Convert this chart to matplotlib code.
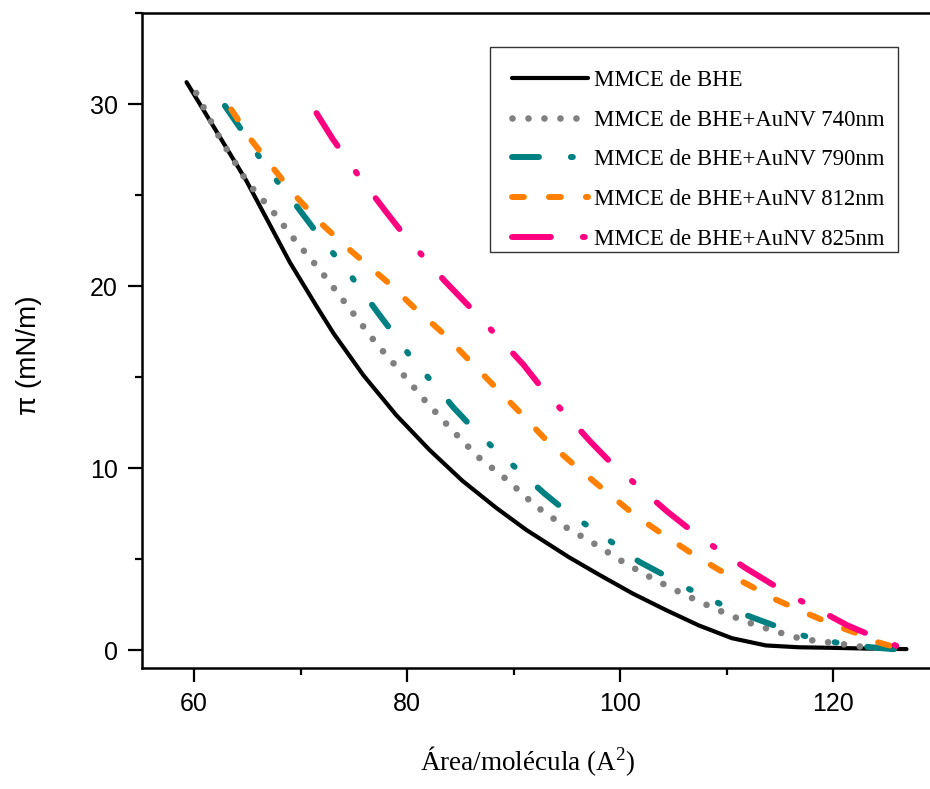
import matplotlib
matplotlib.use("Agg")
import matplotlib.pyplot as plt
from matplotlib.patches import Rectangle
from matplotlib.ticker import MultipleLocator

plt.rcParams["lines.scale_dashes"] = False
plt.rcParams["mathtext.default"] = "regular"

# Surface pressure isotherms: area per molecule (A^2) vs pi (mN/m)
area_bhe = [59.3, 62.0, 64.9, 67.0, 69.0, 71.6, 73.1, 75.9, 79.0, 82.1, 85.2, 88.4,
            91.2, 95.2, 98.0, 101.2, 104.3, 107.4, 110.5, 113.7, 116.8, 119.9, 123.0,
            126.9]
pi_bhe = [31.2, 28.6, 25.8, 23.5, 21.3, 18.8, 17.4, 15.1, 12.9, 11.0, 9.3, 7.8,
          6.6, 5.1, 4.15, 3.1, 2.2, 1.35, 0.65, 0.25, 0.15, 0.12, 0.08, 0.05]

area_740 = [60.2, 62.4, 65.0, 67.4, 69.5, 71.8, 73.9, 77.1, 79.4, 81.7, 84.2, 86.7,
            89.5, 92.1, 94.9, 97.7, 100.5, 103.3, 106.0, 108.8, 111.6, 114.4, 117.1,
            119.9, 122.7, 126.9]
pi_740 = [30.6, 28.15, 25.7, 24.1, 22.5, 20.9, 19.3, 16.85, 15.3, 13.7, 12.1, 10.6,
          9.3, 7.9, 6.75, 5.8, 4.76, 3.85, 3.06, 2.3, 1.6, 1.06, 0.6, 0.4, 0.18, 0.0]

area_790 = [62.9, 64.9, 66.0, 67.9, 69.5, 71.3, 72.8, 74.8, 77.3, 79.1, 80.6, 82.7,
            84.4, 86.5, 88.5, 90.9, 92.9, 95.2, 97.3, 99.8, 101.8, 104.2, 106.3, 108.8,
            110.8, 113.3, 115.4, 117.7, 119.8, 122.1, 124.1, 126.8]
pi_790 = [29.9, 28.2, 27.2, 25.7, 24.5, 23.1, 22.0, 20.5, 18.5, 17.1, 15.9, 14.5,
          13.3, 12.0, 10.9, 9.65, 8.6, 7.5, 6.7, 5.7, 4.85, 4.1, 3.4, 2.7,
          2.15, 1.6, 1.15, 0.7, 0.46, 0.24, 0.12, 0.0]

area_812 = [63.5, 65.4, 67.4, 69.6, 72.0, 74.6, 78.2, 80.7, 83.4, 85.7, 88.2, 90.7,
            93.2, 95.9, 98.5, 101.2, 103.9, 106.5, 109.3, 112.0, 114.7, 117.4, 120.1,
            122.7, 124.0, 126.8]
pi_812 = [29.7, 28.0, 26.5, 24.9, 23.4, 22.0, 20.2, 18.8, 17.4, 16.0, 14.5, 13.0,
          11.45, 10.07, 8.8, 7.5, 6.4, 5.4, 4.4, 3.6, 2.75, 2.05, 1.37,
          0.82, 0.46, 0.0]

area_825 = [71.5, 73.0, 75.4, 78.0, 79.6, 83.5, 86.3, 88.05, 90.9, 92.65, 94.5, 97.3,
            99.3, 101.3, 104.45, 106.4, 108.5, 111.8, 113.9, 116.0, 119.3, 121.3, 123.5,
            126.9]
pi_825 = [29.5, 28.1, 26.1, 24.1, 22.9, 20.3, 18.6, 17.5, 15.7, 14.4, 13.2, 11.4,
          10.2, 9.2, 7.6, 6.7, 5.8, 4.5, 3.75, 3.0, 2.0, 1.37, 0.82, 0.0]

labels = ["MMCE de BHE",
          "MMCE de BHE+AuNV 740nm",
          "MMCE de BHE+AuNV 790nm",
          "MMCE de BHE+AuNV 812nm",
          "MMCE de BHE+AuNV 825nm"]

xticks = [60, 80, 100, 120]
yticks = [0, 10, 20, 30]

W, H = 930, 789
fig = plt.figure(figsize=(W / 100, H / 100), dpi=100)
fig.patch.set_facecolor("white")
left_px, right_px, top_px, bottom_px = 141.7, 932.0, 13.0, 668.0
ax = fig.add_axes([left_px / W, 1 - bottom_px / H,
                   (right_px - left_px) / W, (bottom_px - top_px) / H])

common = dict(solid_capstyle="round", dash_capstyle="round")
ax.plot(area_bhe, pi_bhe, color="black", lw=3.0, label=labels[0], **common)
ax.plot(area_740, pi_740, color="#808080", lw=4.8,
        linestyle=(0, (0.01, 11.5)), label=labels[1], **common)
ax.plot(area_790, pi_790, color="#008080", lw=4.3,
        linestyle=(0, (19.4, 23.0, 1.4, 21.6, 1.4, 22.3)), label=labels[2], **common)
ax.plot(area_812, pi_812, color="#FF8000", lw=4.3,
        linestyle=(0, (8.6, 18.0)), label=labels[3], **common)
ax.plot(area_825, pi_825, color="#FF0080", lw=4.3,
        linestyle=(0, (28.0, 23.0, 1.4, 22.3)), label=labels[4], **common)

x_per_px = 20 / 213.0
y_per_px = 10 / 182.0
ax.set_xlim(60 - (194 - left_px) * x_per_px, 60 + (right_px - 194) * x_per_px)
ax.set_ylim(0 - (bottom_px - 650) * y_per_px, 0 + (650 - top_px) * y_per_px)

ax.set_xticks(xticks)
ax.set_yticks(yticks)
ax.xaxis.set_minor_locator(MultipleLocator(10))
ax.yaxis.set_minor_locator(MultipleLocator(5))
ax.tick_params(which="major", direction="out", length=10, width=1.6,
               labelsize=18, pad=7)
ax.tick_params(which="minor", direction="out", length=5, width=1.6)
for lab in ax.get_xticklabels() + ax.get_yticklabels():
    lab.set_fontfamily("Liberation Sans")

for side in ["left", "bottom", "top"]:
    ax.spines[side].set_linewidth(1.8)
ax.spines["right"].set_visible(False)

ax.set_xlabel("Área/molécula (A$^{2}$)", fontsize=19.5, family="Liberation Serif")
ax.xaxis.set_label_coords((528 - left_px) / (right_px - left_px),
                          -(744 - bottom_px) / (bottom_px - top_px))
ax.set_ylabel("π (mN/m)", fontsize=20, family="Liberation Sans")
ax.yaxis.set_label_coords((42 - left_px) / (right_px - left_px),
                          (bottom_px - 355) / (bottom_px - top_px))

# legend frame and entries
frame = Rectangle((490 / W, 1 - 252 / H), (898 - 490) / W, (252 - 47) / H,
                  transform=fig.transFigure, facecolor="white",
                  edgecolor="#333333", lw=1.0, clip_on=False, zorder=4)
ax.add_patch(frame)
leg = ax.legend(loc="upper left", bbox_to_anchor=(512 / W, 1 - 70 / H),
                bbox_transform=fig.transFigure, frameon=False,
                prop={"family": "Liberation Serif", "size": 16.4},
                handlelength=3.33, handletextpad=0.25, labelspacing=0.82,
                borderpad=0, borderaxespad=0)
leg.set_zorder(5)

fig.savefig("out.png", dpi=100, facecolor="white")
